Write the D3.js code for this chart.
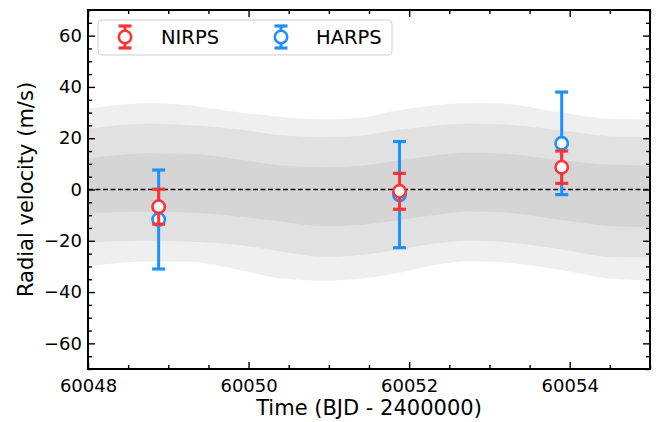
<!DOCTYPE html>
<html>
<head>
<meta charset="utf-8">
<script src="https://cdn.jsdelivr.net/npm/d3@7"></script>
<style>
  body { margin: 0; background: #fff; }
  text { font-family: "DejaVu Sans", sans-serif; }
</style>
</head>
<body>
<div id="chart"></div>
<script>
const width = 659
const height = 422
const margin = {top: 10, right: 9, bottom: 53, left: 88}

// observations
const nirpsTime = [60048.88, 60051.88, 60053.9]
const nirpsRv = [-6.7, -0.7, 8.7]
const nirpsErr = [6.8, 7.0, 6.3]

const harpsTime = [60048.88, 60051.88, 60053.9]
const harpsRv = [-11.7, -2.0, 18.0]
const harpsErr = [19.3, 20.7, 20.0]

// model credible bands
const bandTime = [60048.0, 60048.75, 60049.25, 60049.9, 60050.4, 60050.95, 60051.4, 60051.8, 60052.3, 60052.75, 60053.15, 60053.9, 60054.5, 60055.0]
const upper3 = [31.6, 33.6, 32.9, 30.0, 28.4, 27.3, 28.0, 30.6, 32.8, 33.6, 33.5, 30.0, 27.6, 27.3]
const lower3 = [-29.9, -28.1, -28.2, -31.5, -34.6, -35.5, -34.8, -33.0, -29.5, -28.0, -28.4, -31.5, -34.7, -35.4]
const upper2 = [23.7, 25.6, 25.1, 23.4, 21.2, 20.5, 21.0, 23.0, 24.8, 25.6, 25.4, 23.0, 20.8, 20.5]
const lower2 = [-20.6, -20.0, -20.4, -21.7, -24.2, -26.2, -25.5, -23.8, -21.2, -20.0, -20.4, -23.4, -26.3, -26.5]
const upper1 = [12.0, 14.1, 13.9, 11.6, 9.4, 8.8, 9.3, 11.0, 13.2, 14.3, 14.0, 11.4, 9.7, 9.4]
const lower1 = [-9.3, -8.6, -9.0, -10.6, -12.5, -14.3, -13.8, -12.2, -10.0, -8.6, -8.9, -11.9, -14.2, -14.7]

const xTicks = [60048, 60050, 60052, 60054]
const yTicks = [-60, -40, -20, 0, 20, 40, 60]

const svg = d3.select("#chart")
              .append("svg")
              .attr("width", width)
              .attr("height", height)

const x = d3.scaleLinear().domain([60048, 60055]).range([margin.left, width - margin.right])
const y = d3.scaleLinear().domain([-70, 70]).range([height - margin.bottom, margin.top])

const clip = svg.append("clipPath").attr("id", "plot")
clip.append("rect")
    .attr("x", margin.left).attr("y", margin.top)
    .attr("width", x.range()[1] - x.range()[0])
    .attr("height", y.range()[0] - y.range()[1])

const plot = svg.append("g").attr("clip-path", "url(#plot)")

//Bands, widest first.
const bands = [
  {up: upper3, lo: lower3, color: "#efefef"},
  {up: upper2, lo: lower2, color: "#e1e1e1"},
  {up: upper1, lo: lower1, color: "#d5d5d5"}
]
const area = d3.area()
               .x(d => x(d.t))
               .y0(d => y(d.lo))
               .y1(d => y(d.up))
               .curve(d3.curveMonotoneX)

bands.forEach(b => {
  const pts = bandTime.map((t, i) => ({t: t, up: b.up[i], lo: b.lo[i]}))
  plot.append("path")
      .attr("d", area(pts))
      .attr("fill", b.color)
})

plot.append("line")
    .attr("x1", x(60048)).attr("x2", x(60055))
    .attr("y1", y(0)).attr("y2", y(0))
    .attr("stroke", "#111")
    .attr("stroke-width", 1.5)
    .attr("stroke-dasharray", "5,2.5")

function drawSeries(times, rv, err, color) {
  const g = plot.append("g")
  times.forEach((t, i) => {
    const cx = x(t)
    const top = y(rv[i] + err[i])
    const bot = y(rv[i] - err[i])
    g.append("line")
     .attr("x1", cx).attr("x2", cx).attr("y1", top).attr("y2", bot)
     .attr("stroke", color).attr("stroke-width", 3)
    ;[top, bot].forEach(cy => {
      g.append("line")
       .attr("x1", cx - 6.5).attr("x2", cx + 6.5).attr("y1", cy).attr("y2", cy)
       .attr("stroke", color).attr("stroke-width", 3.2)
    })
    g.append("circle")
     .attr("cx", cx).attr("cy", y(rv[i])).attr("r", 6.2)
     .attr("fill", "#fff").attr("stroke", color).attr("stroke-width", 2.6)
  })
}

drawSeries(harpsTime, harpsRv, harpsErr, "#1e90ff")
drawSeries(nirpsTime, nirpsRv, nirpsErr, "#ff3333")

//Axes, ticks pointing inward on all sides.
const fmt = d3.format("d")
const xMinor = d3.range(60048, 60055.01, 0.5).filter(v => !xTicks.includes(v))
const yMinor = d3.range(-70, 70.01, 5).filter(v => !yTicks.includes(v))

function styleAxis(g) {
  g.select(".domain").remove()
  g.selectAll(".tick line").attr("stroke", "#000").attr("stroke-width", 1.4)
  g.selectAll(".tick text").attr("font-size", 18).attr("fill", "#000")
}

const bottom = y.range()[0], topY = y.range()[1]
const left = x.range()[0], right = x.range()[1]

svg.append("g").attr("transform", `translate(0,${bottom})`)
   .call(d3.axisBottom(x).tickValues(xTicks).tickFormat(fmt).tickSizeInner(-7).tickPadding(10))
   .call(styleAxis)
svg.append("g").attr("transform", `translate(0,${bottom})`)
   .call(d3.axisBottom(x).tickValues(xMinor).tickFormat("").tickSizeInner(-4))
   .call(styleAxis)
svg.append("g").attr("transform", `translate(0,${topY})`)
   .call(d3.axisTop(x).tickValues(xTicks).tickFormat("").tickSizeInner(-7))
   .call(styleAxis)
svg.append("g").attr("transform", `translate(0,${topY})`)
   .call(d3.axisTop(x).tickValues(xMinor).tickFormat("").tickSizeInner(-4))
   .call(styleAxis)

svg.append("g").attr("transform", `translate(${left},0)`)
   .call(d3.axisLeft(y).tickValues(yTicks).tickFormat(fmt).tickSizeInner(-7).tickPadding(6))
   .call(styleAxis)
svg.append("g").attr("transform", `translate(${left},0)`)
   .call(d3.axisLeft(y).tickValues(yMinor).tickFormat("").tickSizeInner(-4))
   .call(styleAxis)
svg.append("g").attr("transform", `translate(${right},0)`)
   .call(d3.axisRight(y).tickValues(yTicks).tickFormat("").tickSizeInner(-7))
   .call(styleAxis)
svg.append("g").attr("transform", `translate(${right},0)`)
   .call(d3.axisRight(y).tickValues(yMinor).tickFormat("").tickSizeInner(-4))
   .call(styleAxis)

svg.append("rect")
   .attr("x", left).attr("y", topY)
   .attr("width", right - left).attr("height", bottom - topY)
   .attr("fill", "none").attr("stroke", "#000").attr("stroke-width", 2)

svg.append("text")
   .attr("x", (left + right) / 2).attr("y", 415)
   .attr("text-anchor", "middle").attr("font-size", 21)
   .text("Time (BJD - 2400000)")

svg.append("text")
   .attr("transform", `translate(33,${(topY + bottom) / 2}) rotate(-90)`)
   .attr("text-anchor", "middle").attr("font-size", 21)
   .text("Radial velocity (m/s)")

//Legend
const legend = svg.append("g").attr("id", "legend")
legend.append("rect")
      .attr("x", 98).attr("y", 20).attr("width", 294).attr("height", 35)
      .attr("rx", 4)
      .attr("fill", "#fff").attr("fill-opacity", 0.8)
      .attr("stroke", "#d0d0d0").attr("stroke-width", 1)

const legendItems = [
  {name: "NIRPS", color: "#ff3333", mx: 125, tx: 161},
  {name: "HARPS", color: "#1e90ff", mx: 281, tx: 316}
]
legendItems.forEach(d => {
  const cy = 37
  legend.append("line")
        .attr("x1", d.mx).attr("x2", d.mx).attr("y1", cy - 11).attr("y2", cy + 11)
        .attr("stroke", d.color).attr("stroke-width", 3)
  ;[cy - 11, cy + 11].forEach(v => {
    legend.append("line")
          .attr("x1", d.mx - 6.5).attr("x2", d.mx + 6.5).attr("y1", v).attr("y2", v)
          .attr("stroke", d.color).attr("stroke-width", 3.2)
  })
  legend.append("circle")
        .attr("cx", d.mx).attr("cy", cy).attr("r", 6.2)
        .attr("fill", "#fff").attr("stroke", d.color).attr("stroke-width", 2.6)
  legend.append("text")
        .attr("x", d.tx).attr("y", 44)
        .attr("font-size", 19.5)
        .text(d.name)
})
</script>
</body>
</html>
